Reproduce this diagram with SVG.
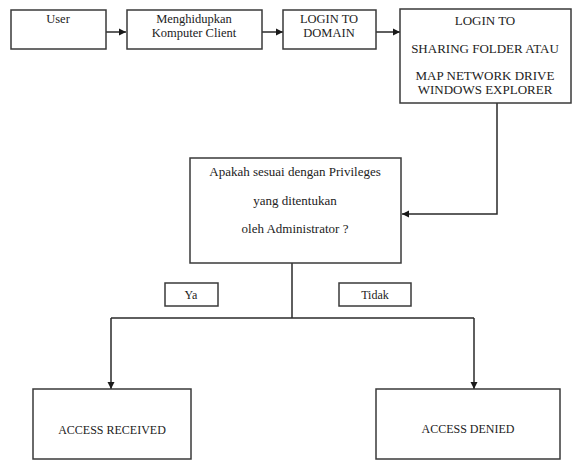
<svg xmlns="http://www.w3.org/2000/svg" width="575" height="460" viewBox="0 0 575 460">
<style>
.box{fill:#fff;stroke:#3a3a3a;stroke-width:1.5}
.t{font-family:"Liberation Serif","Times New Roman",serif;font-size:12.5px;fill:#222;text-anchor:middle}
.l{font-size:13px}
.s{font-size:12px}
.c{fill:none;stroke:#2a2a2a;stroke-width:1.5}
</style>
<defs>
<marker id="ah" markerWidth="8" markerHeight="8" refX="7" refY="4" orient="auto" markerUnits="userSpaceOnUse">
<path d="M0,0.5 L7,4 L0,7.5 Z" fill="#1a1a1a"/>
</marker>
</defs>
<rect width="575" height="460" fill="#fff"/>
<g id="connectors">
<line class="c" x1="106" y1="32" x2="126" y2="32" marker-end="url(#ah)"/>
<line class="c" x1="262" y1="32" x2="283" y2="32" marker-end="url(#ah)"/>
<line class="c" x1="376" y1="32" x2="400" y2="32" marker-end="url(#ah)"/>
<polyline class="c" points="497,103 497,214 402,214" marker-end="url(#ah)"/>
<polyline class="c" points="292,263 292,318"/>
<polyline class="c" points="111,318 474,318"/>
<line class="c" x1="111" y1="318" x2="111" y2="389" marker-end="url(#ah)"/>
<line class="c" x1="474" y1="318" x2="474" y2="389" marker-end="url(#ah)"/>
</g>
<g id="user"><rect class="box" x="11" y="10" width="95" height="39"/><text class="t" x="58" y="23">User</text></g>
<g id="menghidupkan"><rect class="box" x="127" y="10" width="135" height="39"/><text class="t" x="194" y="23">Menghidupkan</text><text class="t" x="194" y="37">Komputer Client</text></g>
<g id="domain"><rect class="box" x="283" y="10" width="93" height="39"/><text class="t" x="329" y="23">LOGIN  TO</text><text class="t" x="329" y="37">DOMAIN</text></g>
<g id="login"><rect class="box" x="400" y="9" width="171" height="94"/><text class="t l" x="485" y="25">LOGIN TO</text><text class="t l" x="485" y="53">SHARING FOLDER ATAU</text><text class="t l" x="485" y="80">MAP NETWORK DRIVE</text><text class="t l" x="485" y="94">WINDOWS  EXPLORER</text></g>
<g id="question"><rect class="box" x="190" y="158" width="211" height="105"/><text class="t l" x="295" y="176">Apakah sesuai dengan Privileges</text><text class="t l" x="295" y="205">yang ditentukan</text><text class="t l" x="295" y="233">oleh Administrator ?</text></g>
<g id="ya"><rect class="box" x="165" y="283" width="53" height="23"/><text class="t s" x="191" y="299">Ya</text></g>
<g id="tidak"><rect class="box" x="339" y="283" width="72" height="23"/><text class="t s" x="375" y="299">Tidak</text></g>
<g id="received"><rect class="box" x="33" y="389" width="158" height="70"/><text class="t s" x="112" y="434">ACCESS RECEIVED</text></g>
<g id="denied"><rect class="box" x="376" y="389" width="184" height="70"/><text class="t s" x="468" y="433">ACCESS DENIED</text></g>
</svg>
